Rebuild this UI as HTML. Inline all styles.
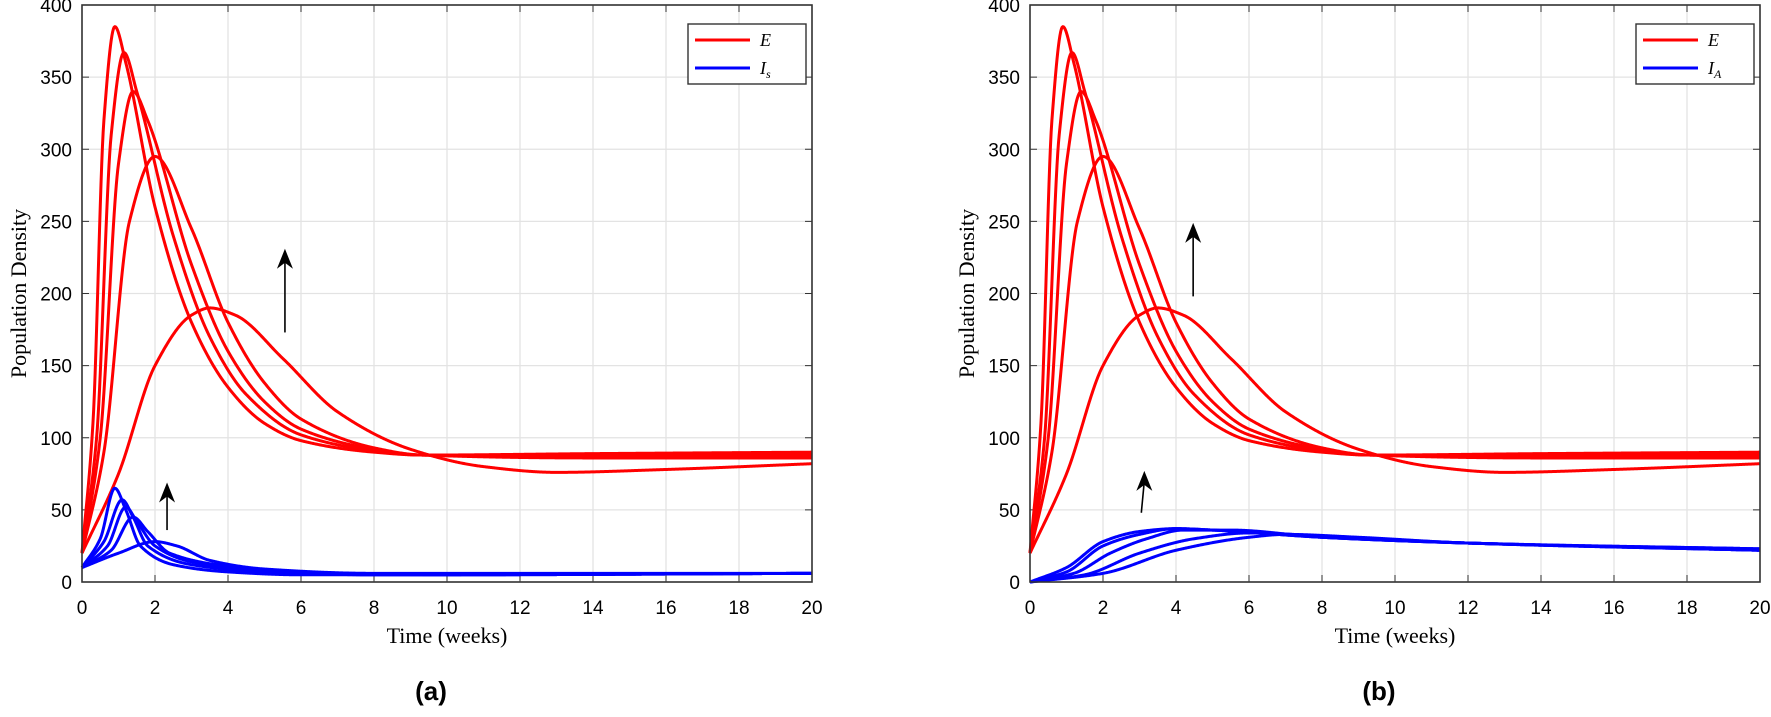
<!DOCTYPE html>
<html><head><meta charset="utf-8"><style>
body{margin:0;background:#fff}
svg{display:block}
.tk{font-family:"Liberation Sans",sans-serif;font-size:19px;fill:#000}
.lb{font-family:"Liberation Serif",serif;font-size:22px;fill:#000}
.cap{font-family:"Liberation Sans",sans-serif;font-size:26px;font-weight:bold;fill:#000}
</style></head><body>
<svg id="s" width="1771" height="717" xmlns="http://www.w3.org/2000/svg"></svg>
<script>
const S=document.getElementById('s');let h='';
const W=730,T=5,B=582,sx=W/20,sy=(B-T)/400;
const E=[
[[0,20],[0.3,110],[0.6,320],[0.9,385],[1.2,360],[2,260],[3,180],[4,135],[5,110],[6,98],[8,90],[9.3,88],[14,89],[20,90]],
[[0,20],[0.4,100],[0.8,310],[1.15,367],[1.5,340],[2.5,240],[3.5,170],[4.5,130],[6,102],[8,91],[9.3,88],[14,88],[20,88]],
[[0,20],[0.5,100],[1,290],[1.4,340],[1.8,320],[3,220],[4,160],[5,125],[6,106],[8,92],[9.3,88],[14,87],[20,87]],
[[0,20],[0.6,90],[1.3,250],[2,295],[3,245],[4,180],[5,138],[6,113],[8,93],[9.3,88],[14,86],[20,86]],
[[0,20],[1,75],[2,150],[3,185],[3.5,190],[4.2,185],[5.5,155],[7,118],[9,92],[11,80],[13,76],[16,78],[20,82]]];
const I=[
[[0,10],[0.5,30],[0.9,65],[1.2,50],[1.6,25],[2.5,12],[4,7],[6,5],[10,5],[20,6]],
[[0,10],[0.6,28],[1.1,57],[1.4,45],[1.8,25],[3,12],[5,7],[8,5],[20,6]],
[[0,10],[0.7,25],[1.2,52],[1.5,42],[2,25],[3,14],[5,8],[8,5],[20,6]],
[[0,10],[0.8,22],[1.4,45],[1.8,35],[2.4,20],[4,11],[6,7],[10,5],[20,6]],
[[0,10],[1,20],[2,28],[2.6,25],[3.5,15],[5,9],[8,6],[12,6],[20,6]]];
const A=[
[[0,0],[1,10],[2,28],[3,35],[4,37],[5,36],[8,31],[12,27],[20,23]],
[[0,0],[1,7],[2,25],[3,33],[4,37],[5,36],[8,31],[12,27],[20,22]],
[[0,0],[1.2,6],[2.2,20],[3.2,30],[4.2,36],[5.5,36],[8,31],[12,27],[20,22]],
[[0,0],[1.5,5],[3,20],[4.5,30],[6,34],[8,32],[12,27],[20,22]],
[[0,0],[2,6],[4,22],[6,31],[7,33],[9,31],[12,27],[20,23]]];
function mono(P){const n=P.length,x=P.map(p=>p[0]),y=P.map(p=>p[1]),d=[],m=[];
for(let i=0;i<n-1;i++)d.push((y[i+1]-y[i])/(x[i+1]-x[i]));
m[0]=d[0];m[n-1]=d[n-2];
for(let i=1;i<n-1;i++){if(d[i-1]*d[i]<=0)m[i]=0;else{const w1=2*(x[i+1]-x[i])+(x[i]-x[i-1]),w2=(x[i+1]-x[i])+2*(x[i]-x[i-1]);m[i]=(w1+w2)/(w1/d[i-1]+w2/d[i]);}}
return t=>{let i=0;while(i<n-2&&t>x[i+1])i++;const hh=x[i+1]-x[i],s=(t-x[i])/hh,
h00=2*s*s*s-3*s*s+1,h10=s*s*s-2*s*s+s,h01=-2*s*s*s+3*s*s,h11=s*s*s-s*s;
return h00*y[i]+h10*hh*m[i]+h01*y[i+1]+h11*hh*m[i+1];};}
function path(pts,L,c){const f=mono(pts);let d='';
for(let k=0;k<=1000;k++){const t=k*0.02;d+=(k?'L':'M')+(L+t*sx).toFixed(2)+','+(B-f(t)*sy).toFixed(2);}
return `<path d="${d}" fill="none" stroke="${c}" stroke-width="3" stroke-linejoin="round"/>`;}
function arrow(L,t,v1,v2,dx){const x=L+t*sx,y1=B-v1*sy,y2=B-v2*sy,x2=x+(dx||0);
return `<line x1="${x}" y1="${y1}" x2="${x2}" y2="${y2+10}" stroke="#000" stroke-width="1.6"/><path d="M${x2},${y2} L${x2-8},${y2+20} L${x2},${y2+14} L${x2+8},${y2+20}Z" fill="#000"/>`;}
function panel(L,blue,leg,cap,arr){
for(let i=0;i<=10;i++){const x=L+i*2*sx;h+=`<line x1="${x}" y1="${T}" x2="${x}" y2="${B}" stroke="#e3e3e3" stroke-width="1.3"/>`;
h+=`<text class="tk" x="${x}" y="614" text-anchor="middle">${i*2}</text>`;
h+=`<line x1="${x}" y1="${B}" x2="${x}" y2="${B-7}" stroke="#333"/><line x1="${x}" y1="${T}" x2="${x}" y2="${T+7}" stroke="#333"/>`;}
for(let j=0;j<=8;j++){const y=B-j*50*sy;h+=`<line x1="${L}" y1="${y}" x2="${L+W}" y2="${y}" stroke="#e3e3e3" stroke-width="1.3"/>`;
h+=`<text class="tk" x="${L-10}" y="${y+7}" text-anchor="end">${j*50}</text>`;
h+=`<line x1="${L}" y1="${y}" x2="${L+7}" y2="${y}" stroke="#333"/><line x1="${L+W}" y1="${y}" x2="${L+W-7}" y2="${y}" stroke="#333"/>`;}
E.forEach(c=>h+=path(c,L,'#ff0000'));blue.forEach(c=>h+=path(c,L,'#0000ff'));
h+=arr;
h+=`<rect x="${L}" y="${T}" width="${W}" height="${B-T}" fill="none" stroke="#333" stroke-width="1.6"/>`;
const lx=L+606;h+=`<rect x="${lx}" y="24" width="118" height="60" fill="#fff" stroke="#333" stroke-width="1.4"/>`;
h+=`<line x1="${lx+7}" y1="40" x2="${lx+62}" y2="40" stroke="#f00" stroke-width="3"/><line x1="${lx+7}" y1="68" x2="${lx+62}" y2="68" stroke="#00f" stroke-width="3"/>`;
h+=`<text class="lb" style="font-style:italic;font-size:18px" x="${lx+72}" y="46">E</text>`;
h+=`<text class="lb" style="font-size:18px" x="${lx+72}" y="74"><tspan font-style="italic">I</tspan><tspan font-style="italic" font-size="12" dy="4">${leg}</tspan></text>`;
h+=`<text class="lb" x="${L+W/2}" y="643" text-anchor="middle">Time (weeks)</text>`;
h+=`<text class="lb" transform="translate(${L-56},${(T+B)/2}) rotate(-90)" text-anchor="middle">Population Density</text>`;
h+=`<text class="cap" x="${L+W/2-16}" y="700" text-anchor="middle">${cap}</text>`;}
panel(82,I,'s','(a)',arrow(82,5.56,173,231)+arrow(82,2.33,36,69));
panel(1030,A,'A','(b)',arrow(1030,4.47,198,249)+arrow(1030,3.05,48,77,3));
S.innerHTML=h;
</script></body></html>
